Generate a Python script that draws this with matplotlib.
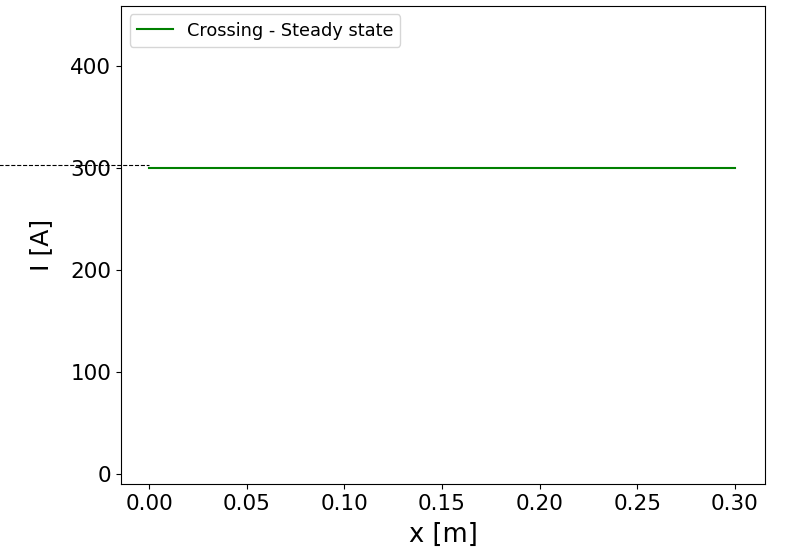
import numpy as np
import matplotlib
matplotlib.use("Agg")
import matplotlib.pyplot as plt

# steady state current along the crossing
x_pos = [0.0, 0.30]
current = [300.0, 300.0]
series_label = "Crossing - Steady state"

# reference level drawn left of the axis
ref_x = [-0.08, 0.0]
ref_level = [303.0, 303.0]

fig = plt.figure(figsize=(7.87, 5.53), dpi=100)
ax = fig.add_axes([0.1537, 0.125, 0.8183, 0.865])

ax.plot(x_pos, current, color="green", linewidth=1.5, label=series_label)
ax.plot(ref_x, ref_level, color="black", linestyle="--", linewidth=0.8, clip_on=False)

ax.set_xlim(-0.0145, 0.3155)
ax.set_ylim(-9.5, 459)
ax.set_xticks([0.0, 0.05, 0.10, 0.15, 0.20, 0.25, 0.30])
ax.set_yticks([0, 100, 200, 300, 400])
ax.xaxis.set_major_formatter(matplotlib.ticker.FormatStrFormatter("%.2f"))
ax.tick_params(labelsize=15.5)

ax.set_xlabel("x [m]", fontsize=18.5, labelpad=6)
ax.set_ylabel("I [A]", fontsize=18, labelpad=12)
ax.legend(loc="upper left", fontsize=12.8)

fig.savefig("out.png", dpi=100)
